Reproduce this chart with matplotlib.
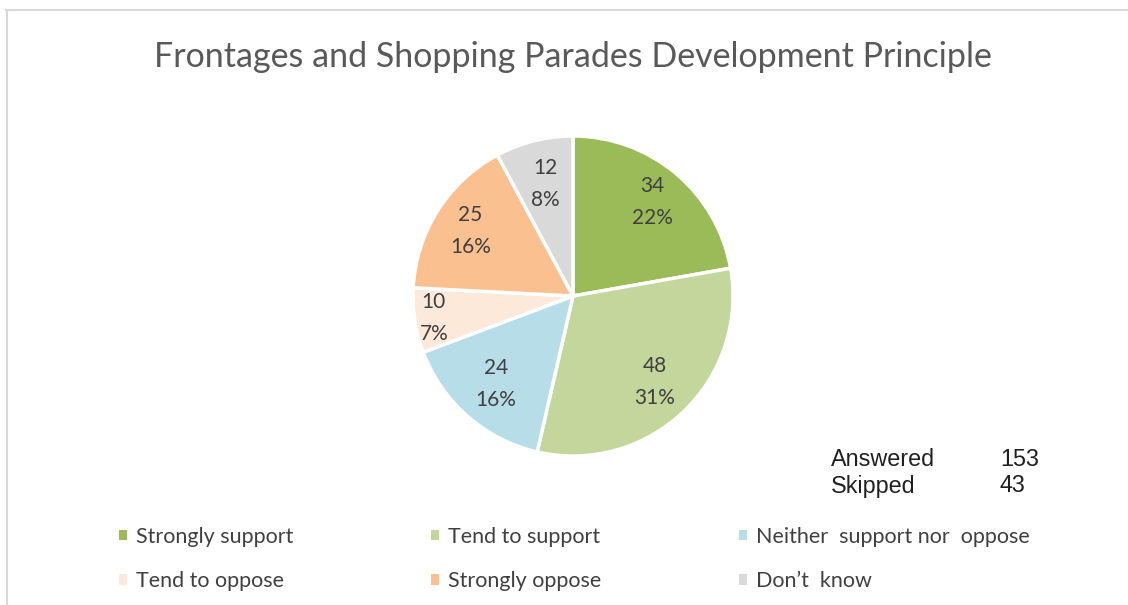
import matplotlib.pyplot as plt
import numpy as np
from matplotlib.lines import Line2D
from matplotlib.patches import Rectangle

categories = ["Strongly support", "Tend to support", "Neither  support nor  oppose",
              "Tend to oppose", "Strongly oppose", "Don\u2019t  know"]
counts = [34, 48, 24, 10, 25, 12]
colors = ["#9BBB59", "#C3D69B", "#B7DDE8", "#FDE9D9", "#FAC090", "#D9D9D9"]
summary_labels = ["Answered", "Skipped"]
summary_values = [153, 43]

label_font = "Lato"
text_color = "#404040"

fig = plt.figure(figsize=(11.28, 6.05), dpi=100)

# frame lines like the copied Excel chart
fig.add_artist(Line2D([0.005, 1.0], [0.984, 0.984], color="#d9d9d9", lw=1.5,
                      transform=fig.transFigure))
fig.add_artist(Line2D([0.0065, 0.0065], [0.0, 0.984], color="#d9d9d9", lw=1.5,
                      transform=fig.transFigure))

fig.text(0.508, 0.905, "Frontages and Shopping Parades Development Principle",
         ha="center", va="center", fontsize=24.5, color="#595959", family=label_font)

# pie centred at (573, 296) px, radius ~160 px
r_px = 160
ax = fig.add_axes([(573 - r_px) / 1128, 1 - (296 + r_px) / 605,
                   2 * r_px / 1128, 2 * r_px / 605])
wedges, _ = ax.pie(counts, colors=colors, startangle=90, counterclock=False,
                   radius=1.0, wedgeprops=dict(edgecolor="white", linewidth=2.5))
ax.set_xlim(-1, 1)
ax.set_ylim(-1, 1)
ax.set_aspect("auto")

total = sum(counts)
label_dist = [0.77, 0.74, 0.73, 0.88, 0.76, 0.72]
for w, c, d in zip(wedges, counts, label_dist):
    ang = np.deg2rad((w.theta1 + w.theta2) / 2)
    ax.text(d * np.cos(ang), d * np.sin(ang),
            f"{c}\n{round(100 * c / total)}%", ha="center", va="center",
            fontsize=15, color=text_color, family=label_font, linespacing=1.75)

# answered / skipped box
for i, (lab, val) in enumerate(zip(summary_labels, summary_values)):
    y = 1 - (459 + 27 * i) / 605
    fig.text(831 / 1128, y, lab, ha="left", va="center", fontsize=16.8,
             color="#202020", family="Liberation Sans")
    fig.text(1000 / 1128, y, str(val), ha="left", va="center", fontsize=16.8,
             color="#202020", family="Liberation Sans")

# legend, row-wise order
order = [0, 3, 1, 4, 2, 5]
handles = [Rectangle((0, 0), 1, 1, facecolor=colors[i], edgecolor="none") for i in order]
fig.legend(handles, [categories[i] for i in order], ncol=3, loc="center left",
           bbox_to_anchor=(108 / 1128, 1 - 559 / 605), frameon=False,
           prop=dict(family=label_font, size=15.5), labelcolor=text_color,
           handlelength=0.37, handleheight=0.37, handletextpad=0.42,
           columnspacing=6.4, labelspacing=1.15, borderpad=0)

fig.savefig("out.png", dpi=100)
